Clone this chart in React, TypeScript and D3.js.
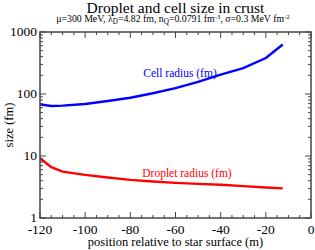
import React from 'react';
import * as d3 from 'd3';

// position relative to star surface (m)
const positions = [-120, -115, -110, -100, -90, -80, -70, -60, -50, -40, -30, -20, -12.5];
// cell radius (fm)
const cellRadius = [68, 64, 65, 69, 77, 87, 103, 124, 157, 205, 262, 380, 630];
// droplet radius (fm)
const dropletRadius = [9.2, 6.6, 5.6, 4.95, 4.5, 4.12, 3.88, 3.69, 3.55, 3.43, 3.27, 3.11, 3.0];

const xMajor = [-120, -100, -80, -60, -40, -20, 0];
const yMajor = [1, 10, 100, 1000];

const W = 315;
const H = 250;
const left = 40;
const right = 311;
const top = 32;
const bottom = 218;
const axisColor = '#444';
const font = "'Liberation Serif', 'Times New Roman', serif";

const App = () => {
  const x = d3.scaleLinear().domain([-120, 0]).range([left, right]);
  const y = d3.scaleLog().domain([1, 1000]).range([bottom, top]);

  const xMinor = d3.range(-120, 1, 5).filter((v) => v % 20 !== 0);
  const yMinor: number[] = [];
  [1, 10, 100].forEach((d) => {
    for (let k = 2; k <= 9; k++) yMinor.push(d * k);
  });

  const line = d3
    .line<number>()
    .x((_, i) => x(positions[i]))
    .y((d) => y(d));

  const major = 6;
  const minor = 3;
  const txt = { fontFamily: font };

  return (
    <svg
      width={W}
      height={H}
      style={{ position: 'absolute', left: 0, top: 0, background: '#fff' }}
    >
      {/* titles */}
      <text x={(left + right) / 2} y={12.5} textAnchor="middle" fontSize={15.5} style={txt}>
        Droplet and cell size in crust
      </text>
      <text x={173} y={22} textAnchor="middle" fontSize={9.8} style={txt}>
        μ=300 MeV, λ
        <tspan fontSize={7.2} dy={2}>D</tspan>
        <tspan dy={-2}>=4.82 fm, n</tspan>
        <tspan fontSize={7.2} dy={2}>Q</tspan>
        <tspan dy={-2}>=0.0791 fm</tspan>
        <tspan fontSize={6.8} dy={-3}>-3</tspan>
        <tspan dy={3}>, σ=0.3 MeV fm</tspan>
        <tspan fontSize={6.8} dy={-3}>-2</tspan>
      </text>

      {/* data */}
      <path d={line(cellRadius) ?? ''} fill="none" stroke="#0000ff" strokeWidth={2.4} />
      <path d={line(dropletRadius) ?? ''} fill="none" stroke="#ff0000" strokeWidth={2.4} />
      <text x={180} y={77} textAnchor="middle" fontSize={11.5} fill="#0000ff" style={txt}>
        Cell radius (fm)
      </text>
      <text x={187} y={177} textAnchor="middle" fontSize={11.5} fill="#ff0000" style={txt}>
        Droplet radius (fm)
      </text>

      {/* ticks */}
      <g stroke={axisColor} strokeWidth={1}>
        {xMajor.map((v) => (
          <g key={'xM' + v}>
            <line x1={x(v)} x2={x(v)} y1={bottom} y2={bottom - major} />
            <line x1={x(v)} x2={x(v)} y1={top} y2={top + major} />
          </g>
        ))}
        {xMinor.map((v) => (
          <g key={'xm' + v}>
            <line x1={x(v)} x2={x(v)} y1={bottom} y2={bottom - minor} />
            <line x1={x(v)} x2={x(v)} y1={top} y2={top + minor} />
          </g>
        ))}
        {yMajor.map((v) => (
          <g key={'yM' + v}>
            <line x1={left} x2={left + major} y1={y(v)} y2={y(v)} />
            <line x1={right} x2={right - major} y1={y(v)} y2={y(v)} />
          </g>
        ))}
        {yMinor.map((v) => (
          <g key={'ym' + v}>
            <line x1={left} x2={left + minor} y1={y(v)} y2={y(v)} />
            <line x1={right} x2={right - minor} y1={y(v)} y2={y(v)} />
          </g>
        ))}
      </g>
      <rect
        x={left}
        y={top}
        width={right - left}
        height={bottom - top}
        fill="none"
        stroke={axisColor}
        strokeWidth={1.5}
      />

      {/* tick labels */}
      {xMajor.map((v) => (
        <text key={'xl' + v} x={x(v)} y={bottom + 16} textAnchor="middle" fontSize={13.5} style={txt}>
          {v}
        </text>
      ))}
      {yMajor.map((v) => (
        <text key={'yl' + v} x={left - 3} y={y(v) + 4} textAnchor="end" fontSize={13.5} style={txt}>
          {v}
        </text>
      ))}

      {/* axis titles */}
      <text x={(left + right) / 2} y={246} textAnchor="middle" fontSize={12.5} style={txt}>
        position relative to star surface (m)
      </text>
      <text
        transform={`translate(13, ${(top + bottom) / 2}) rotate(-90)`}
        textAnchor="middle"
        fontSize={12.5}
        style={txt}
      >
        size (fm)
      </text>
    </svg>
  );
};

export default App;
